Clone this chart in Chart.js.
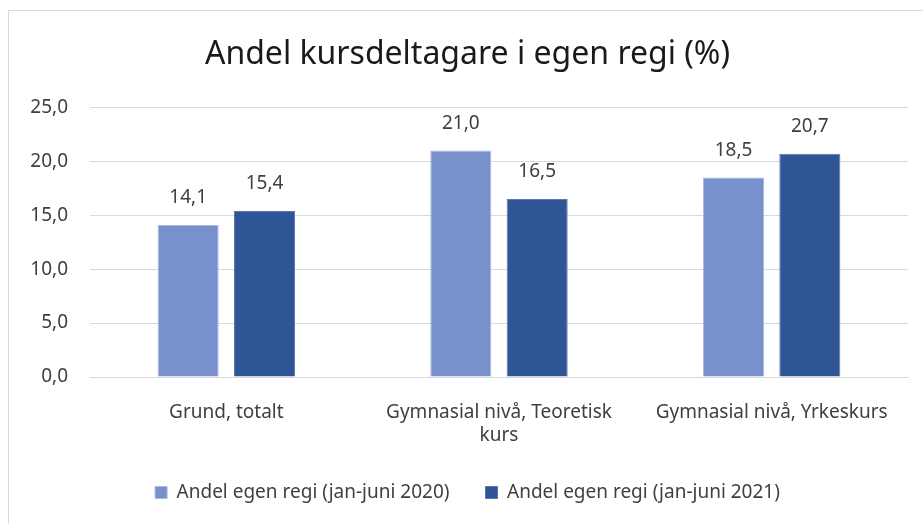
<!DOCTYPE html>
<html>
<head>
<meta charset="utf-8">
<script src="https://cdn.jsdelivr.net/npm/chart.js@4"></script>
<style>
  html, body { margin: 0; padding: 0; background: #fff; }
  #frame { position: absolute; left: 8px; top: 10px; width: 930px; height: 530px; border: 1px solid #d9d9d9; box-sizing: border-box; }
  #wrap { position: absolute; left: 0; top: 0; width: 914px; height: 513px; }
</style>
</head>
<body>
<div id="frame"><div id="wrap"><canvas id="c"></canvas></div></div>
<script>
const categories = [["Grund, totalt"], ["Gymnasial nivå, Teoretisk", "kurs"], ["Gymnasial nivå, Yrkeskurs"]];
const seriesNames = ["Andel egen regi (jan-juni 2020)", "Andel egen regi (jan-juni 2021)"];
const values2020 = [14.1, 21.0, 18.5];
const values2021 = [15.4, 16.5, 20.7];
const yTicks = [0, 5, 10, 15, 20, 25];

const FONT = "'Noto Sans', sans-serif";
const fmt = v => v.toFixed(1).replace('.', ',');

const dataLabels = {
  id: 'dataLabels',
  afterDatasetsDraw(chart) {
    const ctx = chart.ctx;
    ctx.save();
    ctx.font = "19px " + FONT;
    ctx.fillStyle = '#404040';
    ctx.textAlign = 'center';
    ctx.textBaseline = 'middle';
    chart.data.datasets.forEach((ds, i) => {
      const meta = chart.getDatasetMeta(i);
      meta.data.forEach((el, j) => {
        ctx.fillText(fmt(ds.data[j]), el.x, el.y - 27);
      });
    });
    ctx.restore();
  }
};

new Chart(document.getElementById('c'), {
  type: 'bar',
  data: {
    labels: categories,
    datasets: [
      { label: seriesNames[0], data: values2020, backgroundColor: '#7891CD', borderColor: '#a9b9e0', borderWidth: 1, categoryPercentage: 0.56, barPercentage: 0.8 },
      { label: seriesNames[1], data: values2021, backgroundColor: '#2F5597', borderColor: '#5a77ad', borderWidth: 1, categoryPercentage: 0.56, barPercentage: 0.8 }
    ]
  },
  options: {
    responsive: true,
    maintainAspectRatio: false,
    animation: false,
    layout: { padding: { left: 18, right: 15, top: 0, bottom: 12 } },
    plugins: {
      title: {
        display: true,
        text: 'Andel kursdeltagare i egen regi (%)',
        color: '#1a1a1a',
        font: { family: FONT, size: 32, weight: 'normal' },
        padding: { top: 25, bottom: 33 }
      },
      legend: {
        position: 'bottom',
        labels: {
          color: '#404040',
          font: { family: FONT, size: 19 },
          boxWidth: 12, boxHeight: 12,
          padding: 36
        }
      },
      tooltip: { enabled: false }
    },
    scales: {
      x: {
        grid: { display: false, drawTicks: false },
        border: { color: '#d9d9d9' },
        afterFit: axis => { axis.height = 70; },
        ticks: { color: '#404040', font: { family: FONT, size: 19 }, maxRotation: 0, autoSkip: false, padding: 24 }
      },
      y: {
        min: 0, max: 25,
        afterBuildTicks: axis => { axis.ticks = yTicks.map(v => ({ value: v })); },
        afterFit: axis => { axis.width = 63; },
        grid: { color: '#d9d9d9', drawTicks: false },
        border: { display: false },
        ticks: { color: '#404040', font: { family: FONT, size: 19 }, padding: 22, callback: v => fmt(v) }
      }
    }
  },
  plugins: [dataLabels]
});
</script>
</body>
</html>
